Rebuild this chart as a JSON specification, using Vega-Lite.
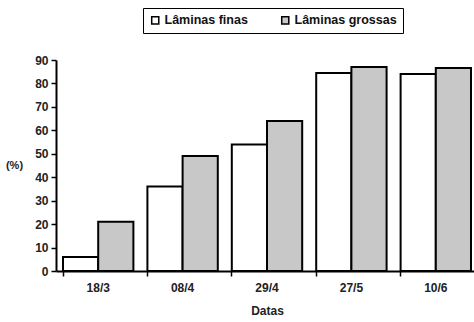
{
  "$schema": "https://vega.github.io/schema/vega-lite/v6.json",
  "autosize": "none",
  "width": 422,
  "height": 211,
  "padding": {"left": 56, "top": 60, "right": 0, "bottom": 51},
  "background": "white",
  "data": {
    "values": [
      {"data": "18/3", "tipo": "Lâminas finas", "valor": 6},
      {"data": "18/3", "tipo": "Lâminas grossas", "valor": 21},
      {"data": "08/4", "tipo": "Lâminas finas", "valor": 36},
      {"data": "08/4", "tipo": "Lâminas grossas", "valor": 49},
      {"data": "29/4", "tipo": "Lâminas finas", "valor": 54},
      {"data": "29/4", "tipo": "Lâminas grossas", "valor": 64},
      {"data": "27/5", "tipo": "Lâminas finas", "valor": 84.5},
      {"data": "27/5", "tipo": "Lâminas grossas", "valor": 87},
      {"data": "10/6", "tipo": "Lâminas finas", "valor": 84},
      {"data": "10/6", "tipo": "Lâminas grossas", "valor": 86.6}
    ]
  },
  "mark": {"type": "bar", "stroke": "black", "strokeWidth": 2},
  "encoding": {
    "x": {
      "field": "data",
      "type": "nominal",
      "sort": null,
      "title": "Datas",
      "scale": {"paddingInner": 0.166, "paddingOuter": 0.083},
      "axis": {
        "labelAngle": 0,
        "bandPosition": 0,
        "domainColor": "black",
        "domainWidth": 2,
        "tickColor": "black",
        "tickWidth": 1.5,
        "tickSize": 5,
        "labelFont": "Liberation Sans",
        "labelFontWeight": "bold",
        "labelFontSize": 12,
        "labelColor": "#222",
        "labelPadding": 6,
        "titleFont": "Liberation Sans",
        "titleFontWeight": "bold",
        "titleFontSize": 12,
        "titleColor": "#222",
        "titlePadding": 12
      }
    },
    "xOffset": {"field": "tipo", "type": "nominal"},
    "y": {
      "field": "valor",
      "type": "quantitative",
      "title": "(%)",
      "scale": {"domain": [0, 90]},
      "axis": {
        "values": [0, 10, 20, 30, 40, 50, 60, 70, 80, 90],
        "grid": false,
        "domainColor": "black",
        "domainWidth": 2,
        "tickColor": "black",
        "tickWidth": 1.5,
        "tickSize": 5,
        "labelFont": "Liberation Sans",
        "labelFontWeight": "bold",
        "labelFontSize": 12,
        "labelColor": "#222",
        "labelPadding": 3,
        "titleFont": "Liberation Sans",
        "titleFontWeight": "bold",
        "titleFontSize": 11,
        "titleColor": "#222",
        "titleAngle": 0,
        "titleX": -42,
        "titleY": 110,
        "titleAlign": "center"
      }
    },
    "fill": {
      "field": "tipo",
      "type": "nominal",
      "scale": {"range": ["white", "#c8c8c8"]},
      "legend": {
        "title": null,
        "orient": "none",
        "legendX": 87,
        "legendY": -52,
        "direction": "horizontal",
        "strokeColor": "black",
        "padding": 6,
        "symbolType": "square",
        "symbolSize": 50,
        "symbolStrokeColor": "black",
        "symbolStrokeWidth": 1.5,
        "labelFont": "Liberation Sans",
        "labelFontWeight": "bold",
        "labelFontSize": 12.5,
        "labelColor": "#111",
        "columnPadding": 30,
        "labelOffset": 3
      }
    }
  },
  "config": {"view": {"stroke": null}}
}
